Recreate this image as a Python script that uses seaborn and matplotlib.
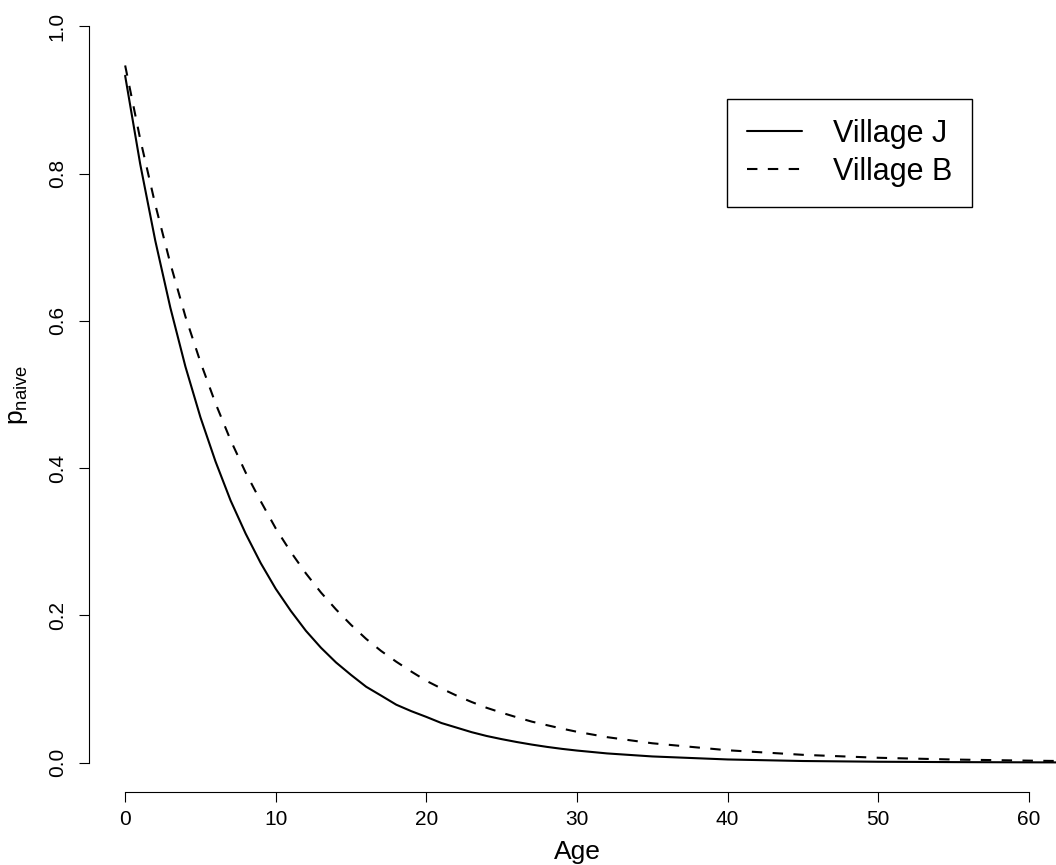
import numpy as np
import pandas as pd
import matplotlib
matplotlib.use("Agg")
import matplotlib.pyplot as plt
import seaborn as sns

# Ages and proportions
age = [0, 1, 2, 3, 4, 5, 6, 7, 8, 9, 10, 11, 12, 13, 14, 15, 16, 17, 18, 19,
       20, 21, 22, 23, 24, 25, 26, 27, 28, 29, 30, 32, 35, 40, 45, 50, 55, 60, 62]
village_j = [0.933, 0.813, 0.709, 0.618, 0.538, 0.469, 0.409, 0.356, 0.311, 0.271,
             0.236, 0.206, 0.179, 0.156, 0.136, 0.119, 0.103, 0.0909, 0.0786, 0.0698,
             0.0620, 0.0537, 0.0475, 0.0413, 0.0361, 0.0318, 0.0279, 0.0244, 0.0213,
             0.0186, 0.0163, 0.0124, 0.0083, 0.0042, 0.0021, 0.0011, 0.0006, 0.0003,
             0.0002]
village_b = [0.947, 0.847, 0.758, 0.678, 0.606, 0.544, 0.488, 0.438, 0.394, 0.355,
             0.318, 0.286, 0.257, 0.231, 0.208, 0.187, 0.168, 0.1515, 0.137, 0.1236,
             0.111, 0.1006, 0.091, 0.0823, 0.0744, 0.0677, 0.0615, 0.0556, 0.0508,
             0.0461, 0.0418, 0.0345, 0.0262, 0.0167, 0.0105, 0.0065, 0.0041, 0.0026,
             0.0021]
x_ticks = [0, 10, 20, 30, 40, 50, 60]
y_ticks = [0.0, 0.2, 0.4, 0.6, 0.8, 1.0]

sns.set_theme(style="white")
plt.rcParams['font.family'] = ['Liberation Sans', 'DejaVu Sans']
plt.rcParams['text.color'] = 'black'

W, H = 1056, 865
fig = plt.figure(figsize=(W / 100, H / 100), dpi=100)
# plot region in pixels (R style, goes a little past the right/top edges)
left, right, top, bottom = 89, 1065, -3, 792
ax = fig.add_axes([left / W, (H - bottom) / H, (right - left) / W, (bottom - top) / H])

df_j = pd.DataFrame({"Age": age, "p": village_j})
df_b = pd.DataFrame({"Age": age, "p": village_b})
sns.lineplot(data=df_j, x="Age", y="p", ax=ax, color="black", linewidth=1.5,
             label="Village J")
sns.lineplot(data=df_b, x="Age", y="p", ax=ax, color="black", linewidth=1.5,
             label="Village B")
ax.lines[1].set_dashes([5, 5])

ax.set_xlim(-2.4, 62.4)
ax.set_ylim(-0.04, 1.04)

for s in ["top", "right"]:
    ax.spines[s].set_visible(False)
for s in ["left", "bottom"]:
    ax.spines[s].set_color("black")
    ax.spines[s].set_linewidth(0.8)
ax.spines["left"].set_bounds(0, 1)
ax.spines["bottom"].set_bounds(0, 60)

ax.set_xticks(x_ticks)
ax.set_yticks(y_ticks)
ax.set_xticklabels([str(t) for t in x_ticks])
ax.set_yticklabels([f"{t:.1f}" for t in y_ticks], rotation=90, va="center")
ax.tick_params(axis="both", direction="out", length=7, width=0.8, color="black",
               labelsize=15, labelcolor="black", bottom=True, left=True)
ax.tick_params(axis="x", pad=6)
ax.tick_params(axis="y", pad=9)

ax.set_xlabel("Age", fontsize=19, labelpad=8, color="black")
ax.set_ylabel(r"$\mathregular{p_{naive}}$", fontsize=19, labelpad=13, color="black")

leg = ax.legend(loc="upper left", bbox_to_anchor=(0.654, 0.872), fontsize=22,
                frameon=True, fancybox=False, edgecolor="black", framealpha=1,
                handlelength=1.8, handletextpad=1.0, borderpad=0.65,
                labelspacing=0.28, borderaxespad=0)
leg.get_frame().set_linewidth(1.0)
for t in leg.get_texts():
    t.set_color("black")

fig.savefig("out.png", dpi=100)
